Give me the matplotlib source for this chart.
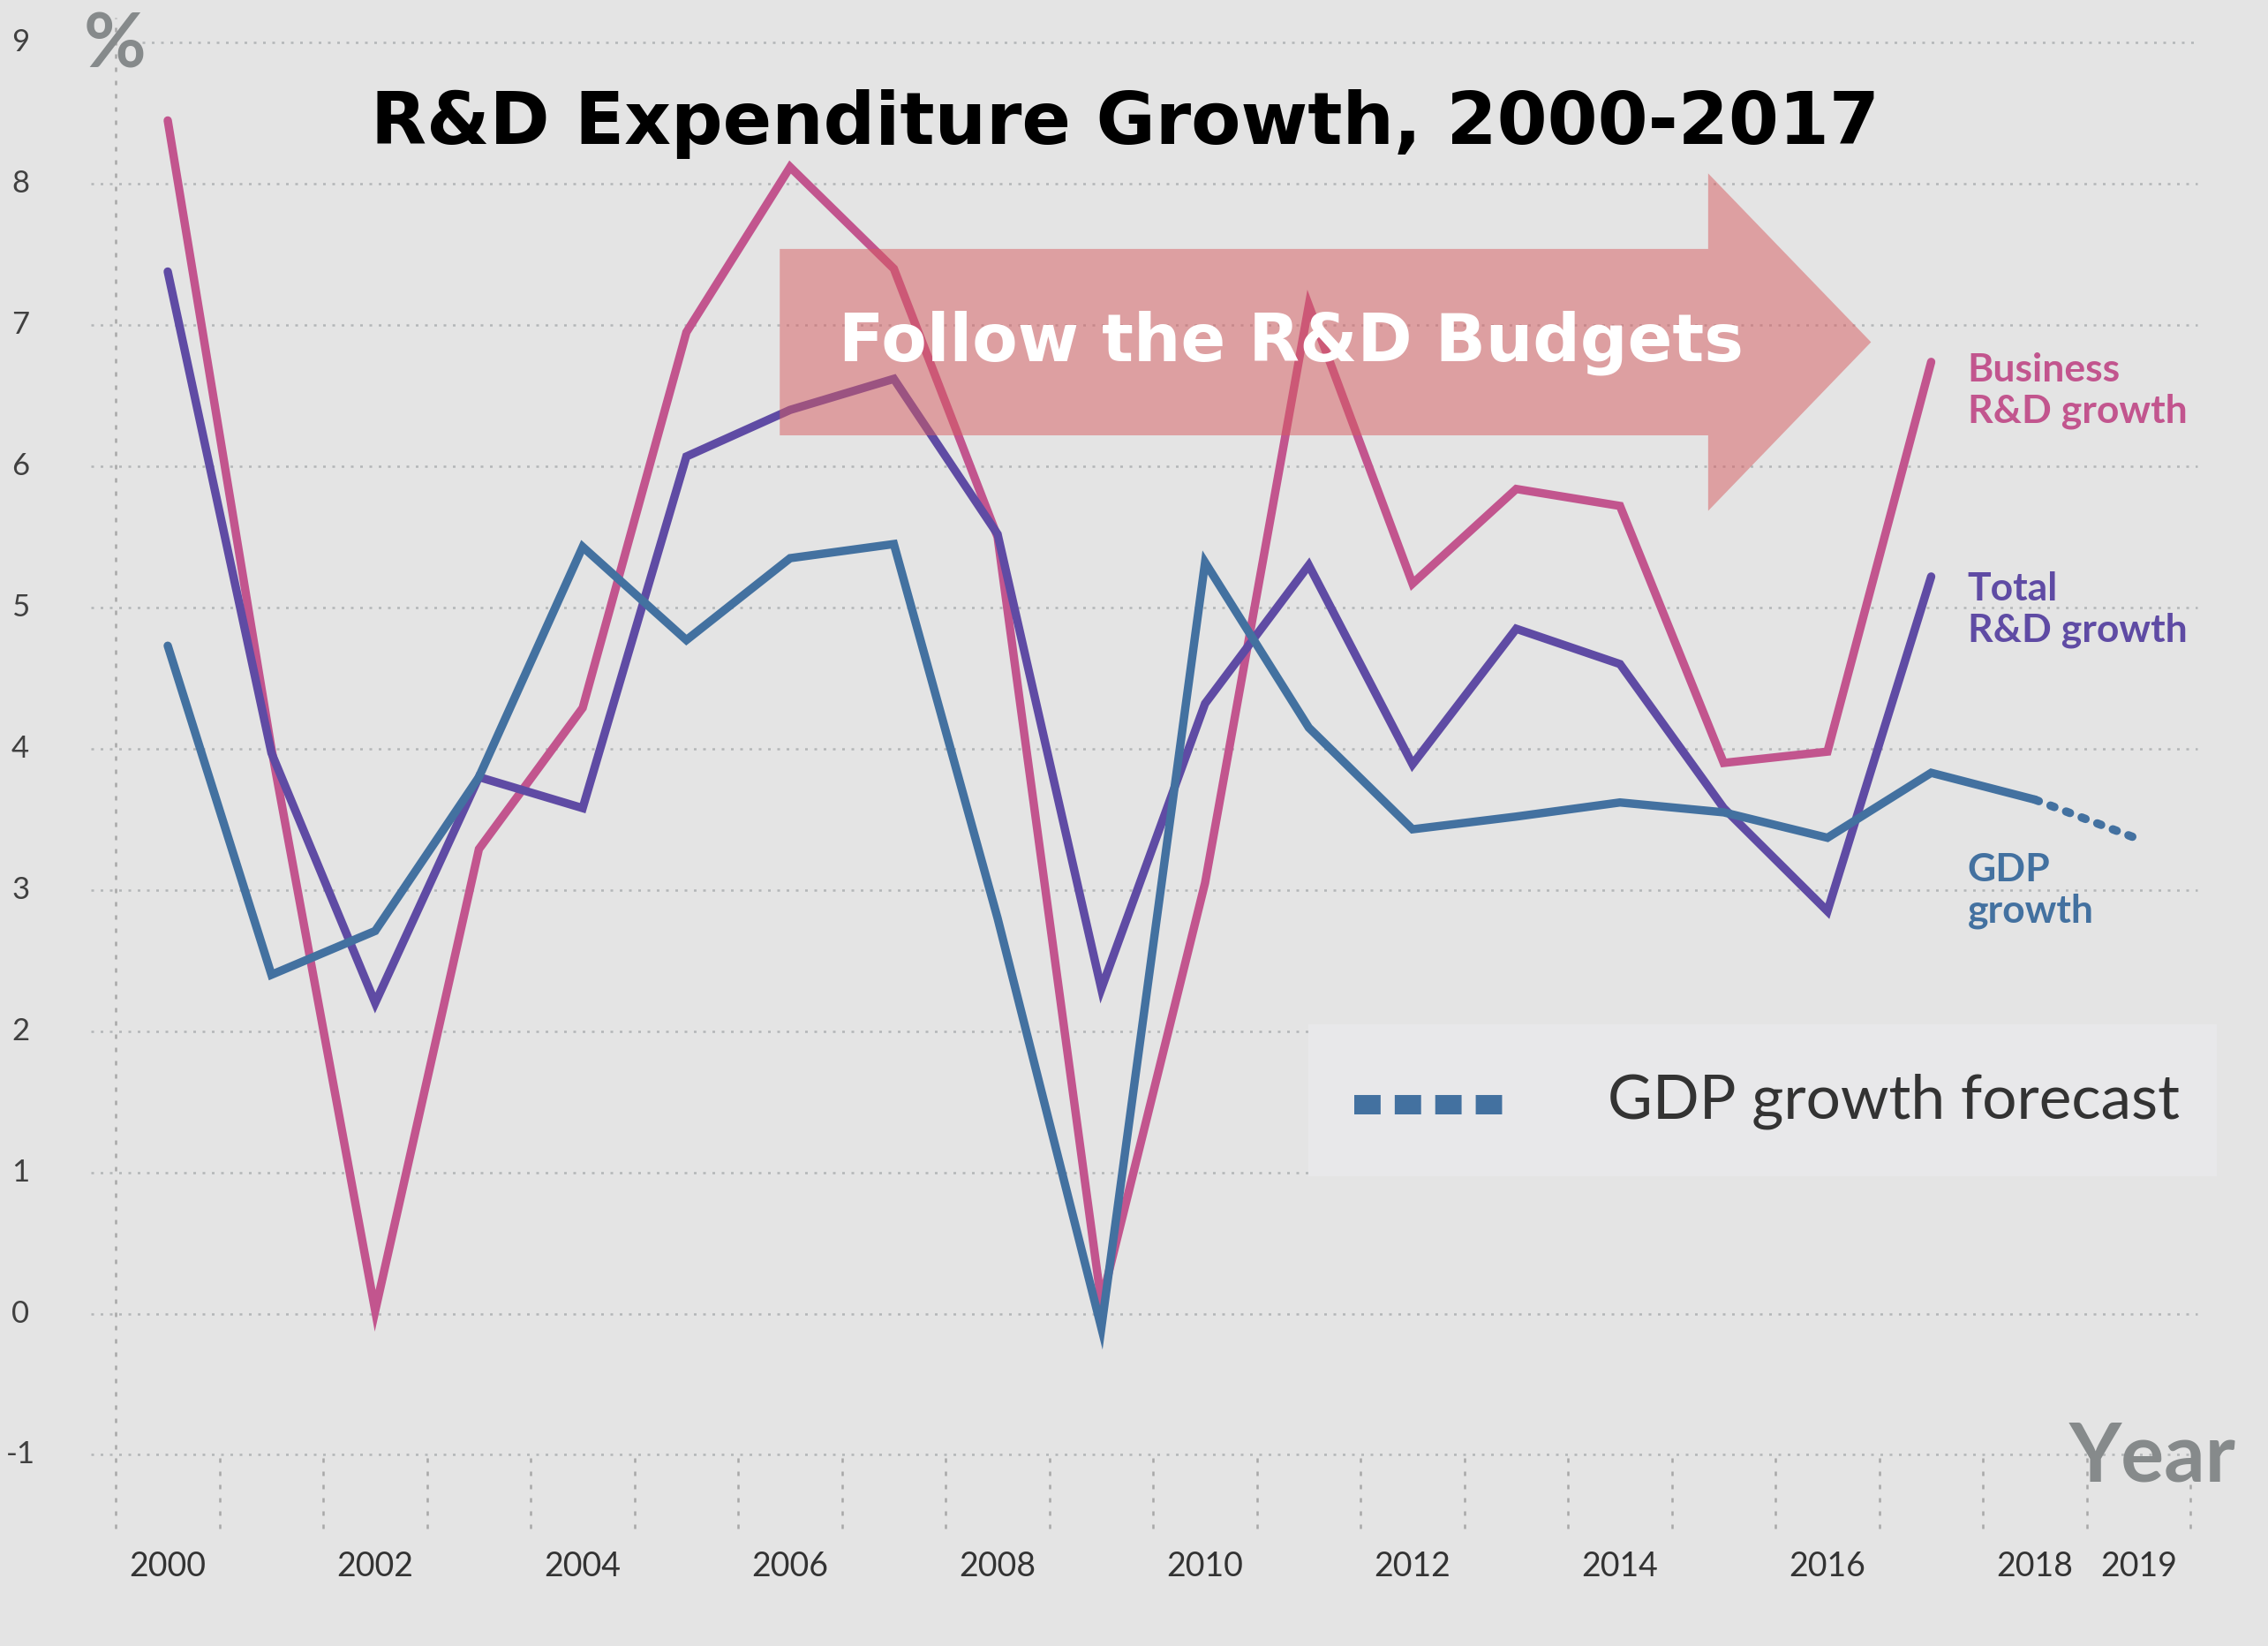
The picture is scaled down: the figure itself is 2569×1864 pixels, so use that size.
import matplotlib
matplotlib.use("Agg")
import numpy as np
import matplotlib.pyplot as plt
import matplotlib.patches as mpatches

# data (% growth)
years = list(range(2000, 2018))
business_rd = [8.45, 4.0, 0.02, 3.29, 4.29, 6.95, 8.12, 7.4, 5.5, 0.08,
               3.05, 7.14, 5.17, 5.84, 5.72, 3.9, 3.98, 6.74]
total_rd = [7.38, 3.97, 2.2, 3.8, 3.58, 6.07, 6.4, 6.62, 5.52, 2.3,
            4.32, 5.3, 3.89, 4.85, 4.6, 3.58, 2.85, 5.22]
gdp_years = list(range(2000, 2019))
gdp_growth = [4.73, 2.4, 2.71, 3.8, 5.43, 4.77, 5.35, 5.45, 2.8, -0.1,
              5.32, 4.15, 3.43, 3.52, 3.62, 3.55, 3.37, 3.83, 3.64]
forecast_years = [2018, 2019]
gdp_forecast = [3.64, 3.36]

y_ticks = list(range(-1, 10))
x_tick_years = [2000, 2002, 2004, 2006, 2008, 2010, 2012, 2014, 2016, 2018, 2019]

series_labels = [
    (["Business", "R&D growth"], 6.6),
    (["Total", "R&D growth"], 5.05),
    (["GDP", "growth"], 3.06),
]

BG = "#e4e4e4"
PINK = "#c2558e"
PURPLE = "#5f4ba4"
BLUE = "#4371a0"
GRAY = "#868a8b"
GRID = "#b3b6b8"

plt.rcParams["font.family"] = ["Lato", "DejaVu Sans"]

fig = plt.figure(figsize=(25.69, 18.64), dpi=100, facecolor=BG)
ax = fig.add_axes([0, 0, 1, 1])
ax.set_facecolor(BG)
ax.set_xlim(1998.383, 2020.247)
ax.set_ylim(-2.354, 9.303)
ax.axis("off")

# dotted horizontal grid
for v in y_ticks:
    x0 = 1999.75 if v == 9 else 1999.26
    ax.plot([x0, 2019.57], [v, v], color=GRID, lw=1.8,
            linestyle=(0, (1.2, 3.0)), zorder=1)
    ax.text(1998.58, v, str(v), ha="center", va="center", fontsize=25,
            color="#404040")

# left axis and the short year separators under the -1 line
ax.plot([1999.5, 1999.5], [-1.52, 9.18], color="#a8a8a8", lw=1.8,
        linestyle=(0, (2.0, 4.0)), zorder=1)
ax.vlines(np.arange(2000.5, 2020, 1), -1.52, -1.0, color="#a8a8a8", lw=1.8,
          linestyles=(0, (2.0, 4.0)), zorder=1)
for yr in x_tick_years:
    ax.text(yr, -1.79, str(yr), ha="center", va="center", fontsize=27,
            color="#333333")

# legend box for the forecast
ax.add_patch(mpatches.Rectangle((2011.0, 0.97), 8.75, 1.08,
                                facecolor="#e8e8ea", edgecolor="none", zorder=2))
ax.plot([2011.44, 2012.87], [1.48, 1.48], color=BLUE, lw=15.8,
        linestyle=(0, (1.36, 0.73)), dash_capstyle="butt", zorder=3)
ax.text(2013.88, 1.38, "GDP growth forecast", fontsize=50,
        color="#333333", va="baseline", ha="left", zorder=3)

# series
line_kw = dict(lw=6.8, solid_joinstyle="miter", solid_capstyle="round")
ax.plot(years, business_rd, color=PINK, zorder=3, **line_kw)
ax.plot(years, total_rd, color=PURPLE, zorder=3.1, **line_kw)
ax.plot(gdp_years, gdp_growth, color=BLUE, zorder=3.2, **line_kw)
ax.plot(forecast_years, gdp_forecast, color=BLUE, lw=6.8,
        linestyle=(0, (0.5, 1.5)), dash_capstyle="round", zorder=3.2)

for (lines, y0), col in zip(series_labels, [PINK, PURPLE, BLUE]):
    for i, txt in enumerate(lines):
        ax.text(2017.35, y0 - i * 0.29, txt, color=col, fontsize=32,
                fontweight="bold", ha="left", va="baseline")

# big annotation arrow
arrow = mpatches.FancyArrow(2005.90, 6.88, 10.52, 0, width=1.32,
                            head_width=2.39, head_length=1.57,
                            length_includes_head=True, facecolor="#d75b5f",
                            edgecolor="none", alpha=0.5, zorder=5)
ax.add_patch(arrow)
ax.text(2010.83, 6.75, "Follow the R&D Budgets", color="white", fontsize=54,
        fontweight="bold", ha="center", va="baseline", zorder=6,
        family="DejaVu Sans")

fig.text(0.496, 0.9126, "R&D Expenditure Growth, 2000-2017", ha="center",
         va="baseline", fontsize=59, fontweight="bold", color="black",
         family="DejaVu Sans")
fig.text(0.0506, 0.9587, "%", ha="center", va="baseline", fontsize=62,
         fontweight="bold", color=GRAY)
fig.text(0.949, 0.1003, "Year", ha="center", va="baseline", fontsize=66,
         fontweight="bold", color=GRAY)

fig.savefig("out.png", dpi=100, facecolor=BG)
